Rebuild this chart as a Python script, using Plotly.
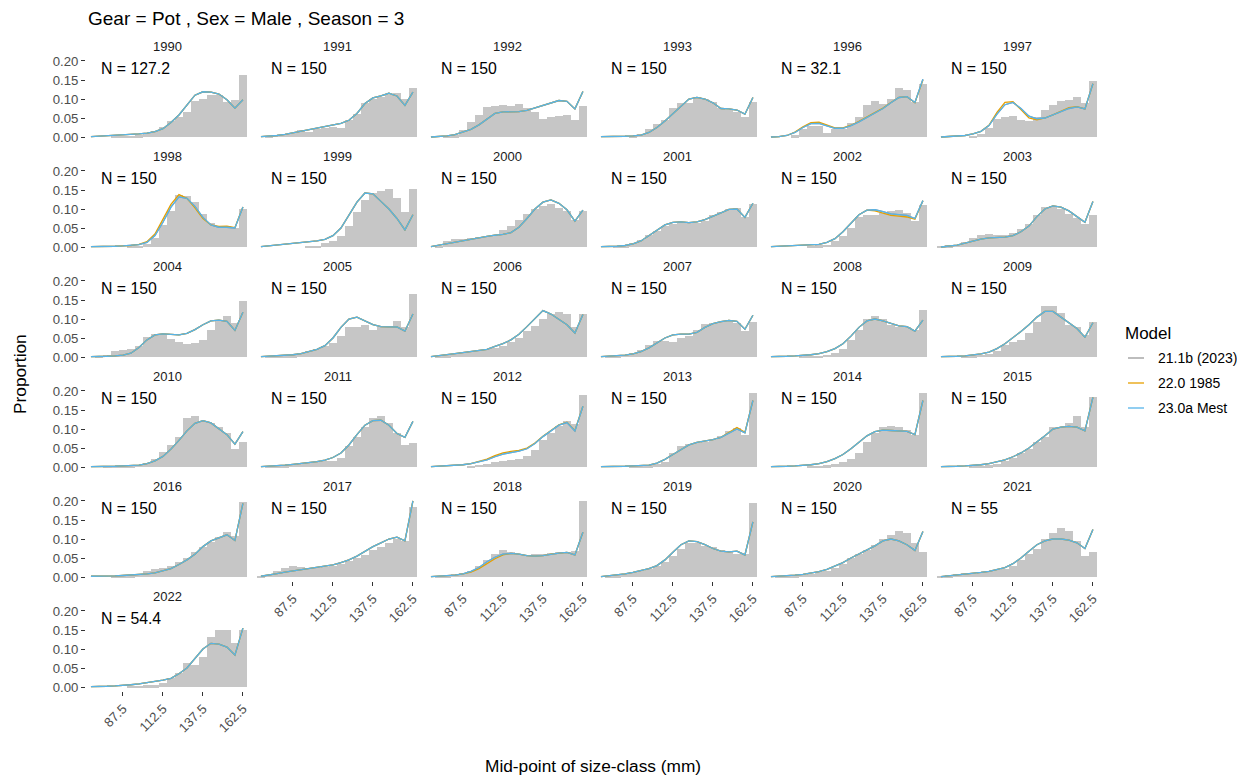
import plotly.graph_objects as go

# page offset of the plot div inside the browser (default body margin)
OFF = 8
W, H = 1245 - OFF, 778 - OFF

size_class = [67.5, 72.5, 77.5, 82.5, 87.5, 92.5, 97.5, 102.5, 107.5, 112.5,
              117.5, 122.5, 127.5, 132.5, 137.5, 142.5, 147.5, 152.5, 157.5, 162.5]
x_tick_vals = [87.5, 112.5, 137.5, 162.5]
x_tick_text = ["87.5", "112.5", "137.5", "162.5"]
y_tick_vals = [0.0, 0.05, 0.10, 0.15, 0.20]
y_tick_text = ["0.00", "0.05", "0.10", "0.15", "0.20"]

years = [1990, 1991, 1992, 1993, 1996, 1997, 1998, 1999, 2000, 2001, 2002, 2003,
         2004, 2005, 2006, 2007, 2008, 2009, 2010, 2011, 2012, 2013, 2014, 2015,
         2016, 2017, 2018, 2019, 2020, 2021, 2022]
n_eff = ["127.2", "150", "150", "150", "32.1", "150", "150", "150", "150", "150",
         "150", "150", "150", "150", "150", "150", "150", "150", "150", "150",
         "150", "150", "150", "150", "150", "150", "150", "150", "150", "55", "54.4"]

model_names = ["21.1b (2023)", "22.0 1985", "23.0a Mest"]
model_colors = ["#999999", "#E69F00", "#56B4E9"]

# observed proportions (bars)
obs_1990 = [0, 0, 0, 0.001, 0.002, 0.003, 0.005, 0.010, 0.015, 0.027, 0.042, 0.052, 0.065, 0.095, 0.100, 0.110, 0.110, 0.093, 0.097, 0.163]
obs_1991 = [0, 0.002, 0.006, 0.007, 0.011, 0.018, 0.013, 0.022, 0.025, 0.027, 0.024, 0.045, 0.060, 0.090, 0.100, 0.105, 0.110, 0.115, 0.100, 0.130]
obs_1992 = [0, 0, 0.001, 0.004, 0.018, 0.039, 0.059, 0.078, 0.082, 0.084, 0.082, 0.086, 0.076, 0.067, 0.048, 0.052, 0.054, 0.059, 0.046, 0.082]
obs_1993 = [0, 0, 0, 0, 0.002, 0.007, 0.020, 0.033, 0.046, 0.076, 0.089, 0.089, 0.104, 0.099, 0.091, 0.076, 0.070, 0.067, 0.053, 0.093]
obs_1996 = [0, 0, 0, 0.004, 0.020, 0.028, 0.028, 0.011, 0.020, 0.022, 0.036, 0.053, 0.085, 0.096, 0.088, 0.100, 0.128, 0.125, 0.091, 0.140]
obs_1997 = [0, 0, 0, 0, 0.003, 0.009, 0.024, 0.048, 0.053, 0.054, 0.044, 0.042, 0.053, 0.070, 0.084, 0.095, 0.097, 0.104, 0.090, 0.147]
obs_1998 = [0, 0, 0, 0, 0, 0.001, 0.003, 0.008, 0.024, 0.058, 0.095, 0.137, 0.134, 0.118, 0.086, 0.064, 0.052, 0.054, 0.050, 0.100]
obs_1999 = [0, 0, 0, 0, 0, 0, 0.001, 0.003, 0.010, 0.015, 0.028, 0.054, 0.092, 0.124, 0.143, 0.148, 0.153, 0.130, 0.092, 0.153]
obs_2000 = [0, 0.002, 0.016, 0.020, 0.022, 0.024, 0.026, 0.028, 0.030, 0.045, 0.055, 0.072, 0.086, 0.100, 0.108, 0.112, 0.103, 0.096, 0.072, 0.096]
obs_2001 = [0, 0, 0.001, 0.005, 0.010, 0.019, 0.032, 0.043, 0.054, 0.060, 0.063, 0.062, 0.063, 0.069, 0.085, 0.093, 0.100, 0.102, 0.080, 0.113]
obs_2002 = [0, 0, 0, 0, 0, 0.003, 0.005, 0.006, 0.015, 0.028, 0.050, 0.078, 0.083, 0.083, 0.089, 0.094, 0.098, 0.089, 0.069, 0.111]
obs_2003 = [0.001, 0.005, 0.006, 0.014, 0.025, 0.032, 0.034, 0.032, 0.031, 0.036, 0.048, 0.060, 0.085, 0.104, 0.107, 0.100, 0.088, 0.077, 0.060, 0.085]
obs_2004 = [0, 0.003, 0.006, 0.015, 0.019, 0.022, 0.030, 0.052, 0.060, 0.060, 0.047, 0.040, 0.034, 0.037, 0.045, 0.072, 0.097, 0.107, 0.089, 0.148]
obs_2005 = [0, 0.001, 0.002, 0.003, 0.005, 0.010, 0.016, 0.021, 0.030, 0.038, 0.055, 0.080, 0.080, 0.084, 0.072, 0.078, 0.080, 0.094, 0.080, 0.165]
obs_2006 = [0, 0.002, 0.005, 0.008, 0.013, 0.017, 0.019, 0.022, 0.025, 0.028, 0.040, 0.050, 0.069, 0.082, 0.100, 0.113, 0.118, 0.113, 0.080, 0.113]
obs_2007 = [0, 0.001, 0.003, 0.006, 0.010, 0.019, 0.032, 0.043, 0.043, 0.040, 0.050, 0.056, 0.072, 0.086, 0.089, 0.093, 0.093, 0.089, 0.069, 0.093]
obs_2008 = [0, 0, 0, 0, 0.001, 0.002, 0.003, 0.006, 0.010, 0.020, 0.045, 0.070, 0.100, 0.107, 0.100, 0.085, 0.080, 0.078, 0.070, 0.124]
obs_2009 = [0, 0, 0, 0.002, 0.004, 0.006, 0.008, 0.015, 0.032, 0.040, 0.045, 0.063, 0.093, 0.133, 0.134, 0.117, 0.085, 0.078, 0.058, 0.091]
obs_2010 = [0, 0, 0.001, 0.002, 0.003, 0.004, 0.006, 0.010, 0.021, 0.039, 0.058, 0.080, 0.128, 0.133, 0.121, 0.115, 0.104, 0.089, 0.048, 0.065]
obs_2011 = [0, 0.001, 0.002, 0.004, 0.006, 0.008, 0.010, 0.012, 0.015, 0.016, 0.024, 0.054, 0.080, 0.106, 0.130, 0.134, 0.115, 0.090, 0.058, 0.063]
obs_2012 = [0, 0, 0, 0, 0, 0.003, 0.006, 0.008, 0.013, 0.017, 0.019, 0.022, 0.030, 0.045, 0.070, 0.090, 0.108, 0.120, 0.112, 0.190]
obs_2013 = [0, 0, 0, 0, 0.001, 0.003, 0.004, 0.007, 0.012, 0.037, 0.056, 0.060, 0.062, 0.065, 0.072, 0.082, 0.095, 0.102, 0.085, 0.195]
obs_2014 = [0, 0, 0, 0, 0, 0.001, 0.002, 0.005, 0.008, 0.013, 0.021, 0.037, 0.067, 0.089, 0.104, 0.107, 0.104, 0.098, 0.083, 0.195]
obs_2015 = [0, 0, 0, 0, 0.001, 0.003, 0.005, 0.008, 0.015, 0.025, 0.038, 0.048, 0.065, 0.078, 0.104, 0.104, 0.115, 0.135, 0.104, 0.183]
obs_2016 = [0, 0, 0, 0.001, 0.002, 0.004, 0.009, 0.016, 0.020, 0.025, 0.028, 0.039, 0.049, 0.067, 0.079, 0.092, 0.106, 0.119, 0.109, 0.197]
obs_2017 = [0.002, 0.006, 0.015, 0.025, 0.030, 0.027, 0.024, 0.025, 0.027, 0.030, 0.035, 0.042, 0.050, 0.058, 0.070, 0.078, 0.090, 0.100, 0.095, 0.185]
obs_2018 = [0, 0.002, 0.005, 0.007, 0.010, 0.015, 0.030, 0.045, 0.060, 0.070, 0.065, 0.060, 0.058, 0.060, 0.060, 0.063, 0.065, 0.065, 0.068, 0.200]
obs_2019 = [0, 0.002, 0.004, 0.007, 0.012, 0.015, 0.020, 0.028, 0.040, 0.055, 0.075, 0.090, 0.090, 0.082, 0.080, 0.072, 0.065, 0.060, 0.060, 0.195]
obs_2020 = [0, 0.001, 0.002, 0.004, 0.006, 0.009, 0.012, 0.016, 0.025, 0.035, 0.050, 0.060, 0.070, 0.085, 0.100, 0.110, 0.120, 0.115, 0.090, 0.065]
obs_2021 = [0.001, 0.005, 0.008, 0.010, 0.008, 0.012, 0.015, 0.018, 0.020, 0.030, 0.045, 0.060, 0.075, 0.100, 0.115, 0.130, 0.120, 0.095, 0.055, 0.065]
obs_2022 = [0, 0, 0, 0, 0, 0.001, 0.003, 0.005, 0.005, 0.011, 0.024, 0.038, 0.062, 0.058, 0.078, 0.132, 0.150, 0.150, 0.116, 0.150]

# fitted proportions, 23.0a Mest (21.1b lies underneath it)
fit_1990 = [0.001, 0.002, 0.003, 0.004, 0.005, 0.006, 0.008, 0.010, 0.014, 0.022, 0.038, 0.058, 0.085, 0.110, 0.119, 0.118, 0.113, 0.098, 0.076, 0.098]
fit_1991 = [0.001, 0.002, 0.004, 0.007, 0.011, 0.016, 0.020, 0.024, 0.027, 0.031, 0.036, 0.044, 0.062, 0.088, 0.103, 0.108, 0.115, 0.108, 0.083, 0.118]
fit_1992 = [0, 0.001, 0.003, 0.006, 0.012, 0.020, 0.032, 0.048, 0.062, 0.066, 0.067, 0.067, 0.070, 0.076, 0.082, 0.088, 0.096, 0.094, 0.074, 0.120]
fit_1993 = [0.001, 0.001, 0.002, 0.002, 0.003, 0.005, 0.012, 0.025, 0.042, 0.062, 0.082, 0.100, 0.104, 0.100, 0.090, 0.075, 0.074, 0.071, 0.060, 0.104]
fit_1996 = [0, 0.001, 0.004, 0.012, 0.025, 0.035, 0.036, 0.029, 0.023, 0.023, 0.030, 0.040, 0.052, 0.063, 0.075, 0.090, 0.104, 0.106, 0.091, 0.152]
fit_1997 = [0, 0.001, 0.002, 0.004, 0.008, 0.015, 0.030, 0.060, 0.085, 0.091, 0.075, 0.055, 0.048, 0.050, 0.058, 0.067, 0.075, 0.079, 0.074, 0.140]
fit_1998 = [0.001, 0.001, 0.002, 0.002, 0.003, 0.004, 0.006, 0.012, 0.030, 0.065, 0.105, 0.132, 0.128, 0.107, 0.078, 0.058, 0.052, 0.052, 0.050, 0.105]
fit_1999 = [0.001, 0.003, 0.005, 0.007, 0.009, 0.011, 0.013, 0.016, 0.020, 0.030, 0.050, 0.085, 0.118, 0.142, 0.140, 0.120, 0.100, 0.075, 0.045, 0.085]
fit_2000 = [0.001, 0.005, 0.010, 0.014, 0.018, 0.022, 0.025, 0.028, 0.031, 0.033, 0.038, 0.052, 0.075, 0.100, 0.118, 0.124, 0.115, 0.098, 0.068, 0.097]
fit_2001 = [0.001, 0.001, 0.002, 0.004, 0.008, 0.016, 0.030, 0.045, 0.058, 0.065, 0.066, 0.064, 0.066, 0.072, 0.080, 0.090, 0.099, 0.100, 0.078, 0.115]
fit_2002 = [0.001, 0.002, 0.003, 0.003, 0.004, 0.005, 0.007, 0.012, 0.022, 0.040, 0.063, 0.085, 0.097, 0.098, 0.093, 0.087, 0.085, 0.083, 0.075, 0.122]
fit_2003 = [0, 0.002, 0.005, 0.010, 0.016, 0.021, 0.024, 0.025, 0.026, 0.030, 0.040, 0.055, 0.080, 0.100, 0.108, 0.105, 0.095, 0.080, 0.065, 0.120]
fit_2004 = [0.001, 0.001, 0.002, 0.003, 0.005, 0.010, 0.025, 0.045, 0.058, 0.061, 0.060, 0.058, 0.062, 0.072, 0.085, 0.095, 0.097, 0.094, 0.070, 0.118]
fit_2005 = [0.001, 0.002, 0.003, 0.004, 0.006, 0.009, 0.014, 0.020, 0.030, 0.050, 0.078, 0.100, 0.105, 0.095, 0.085, 0.080, 0.080, 0.079, 0.068, 0.113]
fit_2006 = [0.001, 0.003, 0.006, 0.009, 0.012, 0.015, 0.018, 0.020, 0.028, 0.035, 0.045, 0.060, 0.080, 0.100, 0.122, 0.113, 0.100, 0.085, 0.063, 0.112]
fit_2007 = [0.001, 0.002, 0.003, 0.005, 0.008, 0.014, 0.024, 0.037, 0.050, 0.058, 0.060, 0.060, 0.065, 0.078, 0.088, 0.093, 0.096, 0.094, 0.073, 0.110]
fit_2008 = [0.001, 0.001, 0.002, 0.003, 0.004, 0.006, 0.009, 0.014, 0.022, 0.035, 0.055, 0.078, 0.095, 0.100, 0.095, 0.088, 0.082, 0.080, 0.068, 0.097]
fit_2009 = [0.001, 0.001, 0.002, 0.003, 0.005, 0.008, 0.013, 0.022, 0.035, 0.050, 0.067, 0.085, 0.105, 0.120, 0.120, 0.105, 0.090, 0.075, 0.052, 0.090]
fit_2010 = [0.001, 0.001, 0.002, 0.002, 0.003, 0.004, 0.005, 0.009, 0.016, 0.028, 0.047, 0.070, 0.095, 0.115, 0.122, 0.116, 0.100, 0.085, 0.060, 0.093]
fit_2011 = [0.001, 0.002, 0.003, 0.005, 0.007, 0.009, 0.011, 0.014, 0.018, 0.025, 0.037, 0.058, 0.085, 0.110, 0.122, 0.123, 0.110, 0.088, 0.078, 0.120]
fit_2012 = [0.001, 0.002, 0.003, 0.004, 0.006, 0.009, 0.013, 0.019, 0.027, 0.034, 0.038, 0.042, 0.048, 0.062, 0.080, 0.096, 0.110, 0.117, 0.095, 0.160]
fit_2013 = [0.001, 0.001, 0.002, 0.002, 0.003, 0.004, 0.005, 0.010, 0.020, 0.033, 0.045, 0.058, 0.065, 0.068, 0.072, 0.078, 0.088, 0.100, 0.090, 0.175]
fit_2014 = [0.001, 0.001, 0.002, 0.003, 0.004, 0.006, 0.009, 0.014, 0.022, 0.033, 0.048, 0.065, 0.082, 0.093, 0.097, 0.096, 0.095, 0.094, 0.085, 0.175]
fit_2015 = [0.001, 0.001, 0.002, 0.003, 0.004, 0.006, 0.009, 0.013, 0.019, 0.027, 0.037, 0.050, 0.065, 0.082, 0.100, 0.105, 0.107, 0.105, 0.095, 0.183]
fit_2016 = [0.002, 0.002, 0.003, 0.003, 0.004, 0.005, 0.006, 0.008, 0.011, 0.016, 0.022, 0.033, 0.045, 0.060, 0.080, 0.095, 0.104, 0.111, 0.096, 0.194]
fit_2017 = [0.002, 0.005, 0.009, 0.013, 0.016, 0.019, 0.022, 0.025, 0.028, 0.032, 0.038, 0.045, 0.055, 0.068, 0.080, 0.090, 0.100, 0.105, 0.095, 0.200]
fit_2018 = [0.001, 0.002, 0.003, 0.005, 0.008, 0.015, 0.025, 0.040, 0.052, 0.060, 0.062, 0.060, 0.056, 0.055, 0.056, 0.060, 0.063, 0.065, 0.058, 0.118]
fit_2019 = [0.001, 0.003, 0.005, 0.008, 0.012, 0.016, 0.022, 0.030, 0.045, 0.065, 0.085, 0.095, 0.093, 0.085, 0.075, 0.068, 0.066, 0.068, 0.058, 0.145]
fit_2020 = [0.001, 0.002, 0.003, 0.005, 0.007, 0.010, 0.014, 0.020, 0.028, 0.038, 0.050, 0.060, 0.070, 0.082, 0.095, 0.100, 0.095, 0.085, 0.070, 0.120]
fit_2021 = [0.001, 0.003, 0.005, 0.007, 0.009, 0.012, 0.015, 0.019, 0.025, 0.035, 0.050, 0.068, 0.085, 0.095, 0.100, 0.100, 0.097, 0.090, 0.075, 0.125]
fit_2022 = [0.001, 0.001, 0.002, 0.003, 0.004, 0.006, 0.008, 0.011, 0.014, 0.018, 0.023, 0.035, 0.050, 0.075, 0.100, 0.115, 0.113, 0.105, 0.084, 0.155]

# 22.0 1985 fits where they visibly differ from 23.0a
fit85_1996 = [0, 0.001, 0.004, 0.013, 0.027, 0.038, 0.039, 0.031, 0.024, 0.024, 0.031, 0.041, 0.053, 0.064, 0.076, 0.091, 0.104, 0.106, 0.090, 0.150]
fit85_1997 = [0, 0.001, 0.002, 0.004, 0.008, 0.015, 0.031, 0.065, 0.091, 0.093, 0.072, 0.050, 0.045, 0.050, 0.058, 0.068, 0.077, 0.080, 0.074, 0.140]
fit85_1998 = [0.001, 0.001, 0.002, 0.002, 0.003, 0.004, 0.007, 0.014, 0.034, 0.071, 0.112, 0.138, 0.128, 0.103, 0.075, 0.058, 0.054, 0.055, 0.051, 0.105]
fit85_2002 = [0.001, 0.002, 0.003, 0.003, 0.004, 0.005, 0.007, 0.012, 0.022, 0.040, 0.063, 0.085, 0.097, 0.095, 0.089, 0.083, 0.081, 0.079, 0.073, 0.122]
fit85_2012 = [0.001, 0.002, 0.003, 0.004, 0.006, 0.009, 0.014, 0.021, 0.030, 0.037, 0.041, 0.044, 0.050, 0.063, 0.081, 0.097, 0.111, 0.118, 0.096, 0.160]
fit85_2013 = [0.001, 0.001, 0.002, 0.002, 0.003, 0.004, 0.005, 0.010, 0.020, 0.033, 0.045, 0.058, 0.065, 0.068, 0.072, 0.078, 0.090, 0.104, 0.091, 0.175]
fit85_2018 = [0.001, 0.002, 0.003, 0.005, 0.008, 0.013, 0.022, 0.035, 0.048, 0.058, 0.062, 0.060, 0.056, 0.055, 0.056, 0.060, 0.063, 0.065, 0.058, 0.118]

obs_all = [obs_1990, obs_1991, obs_1992, obs_1993, obs_1996, obs_1997, obs_1998, obs_1999,
           obs_2000, obs_2001, obs_2002, obs_2003, obs_2004, obs_2005, obs_2006, obs_2007,
           obs_2008, obs_2009, obs_2010, obs_2011, obs_2012, obs_2013, obs_2014, obs_2015,
           obs_2016, obs_2017, obs_2018, obs_2019, obs_2020, obs_2021, obs_2022]
fit_all = [fit_1990, fit_1991, fit_1992, fit_1993, fit_1996, fit_1997, fit_1998, fit_1999,
           fit_2000, fit_2001, fit_2002, fit_2003, fit_2004, fit_2005, fit_2006, fit_2007,
           fit_2008, fit_2009, fit_2010, fit_2011, fit_2012, fit_2013, fit_2014, fit_2015,
           fit_2016, fit_2017, fit_2018, fit_2019, fit_2020, fit_2021, fit_2022]
fit85_by_year = {1996: fit85_1996, 1997: fit85_1997, 1998: fit85_1998, 2002: fit85_2002,
                 2012: fit85_2012, 2013: fit85_2013, 2018: fit85_2018}

FONT = "Liberation Sans, Arial, sans-serif"
TICK_SIZE = 13.2
STRIP_SIZE = 13.0
N_SIZE = 15.8
AXIS_TITLE_SIZE = 17.3
TITLE_SIZE = 19.0
LEG_TITLE_SIZE = 17.0
LEG_TEXT_SIZE = 14.0


def px_x(X):
    return (X - OFF) / W


def px_y(Y):
    return 1 - (Y - OFF) / H


fig = go.Figure()
layout = dict(template="none", width=W, height=H, margin=dict(l=0, r=0, t=0, b=0, pad=0),
              paper_bgcolor="white", plot_bgcolor="white", showlegend=False,
              font=dict(family=FONT), bargap=0)
annotations = []
shapes = []

NCOL = 6
for i, yr in enumerate(years):
    r, c = divmod(i, NCOL)
    k = i + 1
    xs = "x" if k == 1 else f"x{k}"
    ys = "y" if k == 1 else f"y{k}"
    px0 = 86 + 170 * c
    px1 = px0 + 163
    py0 = 57 + 110 * r
    py1 = py0 + 84
    bottom = (r == 4 and c >= 1) or (r == 5 and c == 0)
    left = c == 0

    fit23 = fit_all[i]
    fit85 = fit85_by_year.get(yr, fit23)
    fig.add_trace(go.Bar(x=size_class, y=obs_all[i], width=4.5,
                         marker=dict(color="#C6C6C6", line=dict(width=0)),
                         xaxis=xs, yaxis=ys, showlegend=False, hoverinfo="skip"))
    for name, col, vals in zip(model_names, model_colors, [fit23, fit85, fit23]):
        fig.add_trace(go.Scatter(x=size_class, y=vals, mode="lines", line=dict(color=col, width=1.3),
                                 name=name, xaxis=xs, yaxis=ys, showlegend=False, hoverinfo="skip"))

    xkey = "xaxis" if k == 1 else f"xaxis{k}"
    ykey = "yaxis" if k == 1 else f"yaxis{k}"
    layout[xkey] = dict(domain=[px_x(px0), px_x(px1)], range=[64.4, 166.3], anchor=ys,
                        automargin=False, showgrid=False, zeroline=False, showline=False,
                        tickvals=x_tick_vals, ticktext=x_tick_text,
                        ticks="outside" if bottom else "", ticklen=4, tickwidth=1, tickcolor="#333333",
                        showticklabels=bottom, tickangle=-45,
                        tickfont=dict(size=TICK_SIZE, color="#4D4D4D", family=FONT))
    layout[ykey] = dict(domain=[px_y(py1), px_y(py0)], range=[-0.0105, 0.2105], anchor=xs,
                        automargin=False, showgrid=False, zeroline=False, showline=False,
                        tickvals=y_tick_vals, ticktext=y_tick_text,
                        ticks="outside" if left else "", ticklen=4, tickwidth=1, tickcolor="#333333",
                        showticklabels=left,
                        tickfont=dict(size=TICK_SIZE, color="#4D4D4D", family=FONT))
    # strip label
    annotations.append(dict(text=str(yr), x=px_x((px0 + px1) / 2), y=px_y(py0 - 10.5),
                            xref="paper", yref="paper", showarrow=False,
                            xanchor="center", yanchor="middle",
                            font=dict(size=STRIP_SIZE, color="#1A1A1A", family=FONT)))
    # sample size label
    annotations.append(dict(text=f"N = {n_eff[i]}", x=72.6, y=0.18, xref=xs, yref=ys,
                            showarrow=False, xanchor="left", yanchor="middle",
                            font=dict(size=N_SIZE, color="black", family=FONT)))

# titles
annotations.append(dict(text="Gear = Pot , Sex = Male , Season = 3", x=px_x(86), y=px_y(19),
                        xref="paper", yref="paper", showarrow=False, xanchor="left", yanchor="middle",
                        font=dict(size=TITLE_SIZE, color="black", family=FONT)))
annotations.append(dict(text="Proportion", x=px_x(20), y=px_y(374), xref="paper", yref="paper",
                        showarrow=False, textangle=-90, xanchor="center", yanchor="middle",
                        font=dict(size=AXIS_TITLE_SIZE, color="black", family=FONT)))
annotations.append(dict(text="Mid-point of size-class (mm)", x=px_x(593), y=px_y(766),
                        xref="paper", yref="paper", showarrow=False, xanchor="center", yanchor="middle",
                        font=dict(size=AXIS_TITLE_SIZE, color="black", family=FONT)))

# legend
annotations.append(dict(text="Model", x=px_x(1123), y=px_y(333), xref="paper", yref="paper",
                        showarrow=False, xanchor="left", yanchor="middle",
                        font=dict(size=LEG_TITLE_SIZE, color="black", family=FONT)))
for j, (name, col) in enumerate(zip(model_names, model_colors)):
    ly = 358 + 25 * j
    shapes.append(dict(type="line", xref="paper", yref="paper", x0=px_x(1128), x1=px_x(1144),
                       y0=px_y(ly), y1=px_y(ly), line=dict(color=col, width=1.3)))
    annotations.append(dict(text=name, x=px_x(1156), y=px_y(ly), xref="paper", yref="paper",
                            showarrow=False, xanchor="left", yanchor="middle",
                            font=dict(size=LEG_TEXT_SIZE, color="black", family=FONT)))

layout["annotations"] = annotations
layout["shapes"] = shapes
fig.update_layout(**layout)
fig.write_html("out.html")
